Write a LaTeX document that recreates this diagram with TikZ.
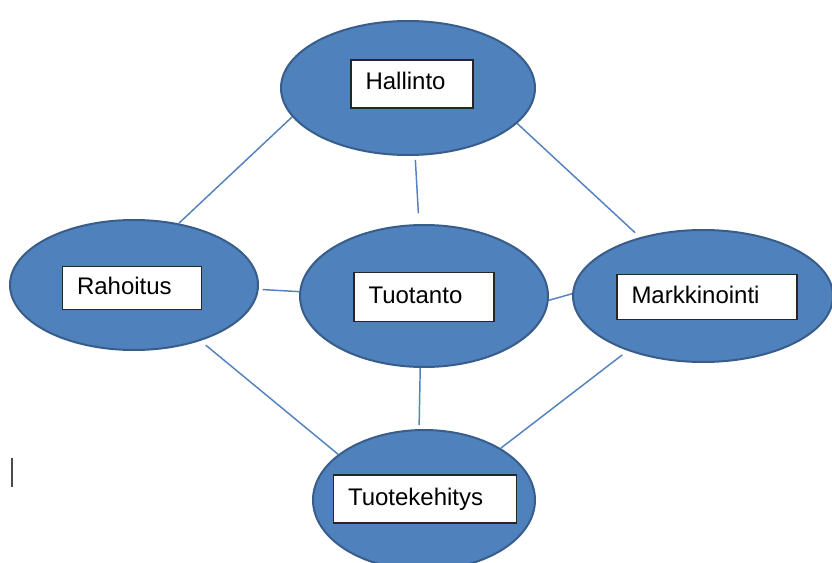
\documentclass[tikz,border=0pt]{standalone}
\usepackage{fontspec}
\setmainfont{Liberation Sans}
\usepackage{tikz}
\usetikzlibrary{shapes.geometric}

\definecolor{blobfill}{RGB}{79,129,189}
\definecolor{blobline}{RGB}{56,93,138}
\definecolor{linkblue}{RGB}{84,130,190}

\begin{document}
\begin{tikzpicture}[
  x=0.75pt, y=-0.75pt,
  blob/.style={draw=blobline,fill=blobfill,line width=1.5pt,shape=ellipse,inner sep=0pt},
  ]
  \tikzset{%
    namebox/.style={
      draw=black!85,
      fill=white,
      line width=1.1pt,
      align=left,
      inner xsep=11pt,
      text height=13pt,
      text depth=4pt,
      font=\fontsize{18}{21}\selectfont,
      text width=#1,
    },
  }
  \useasboundingbox (0,0) rectangle (832,563);
  %Nodes
  \node[blob,minimum width=190.5pt,minimum height=100.5pt](hal) at (408,88){};
  \node[blob,minimum width=186pt,minimum height=97.5pt](rah) at (134,285){};
  \node[blob,minimum width=186pt,minimum height=106.5pt](tuo) at (424,296){};
  \node[blob,minimum width=195pt,minimum height=99pt](mar) at (703,296){};
  \node[blob,minimum width=166.5pt,minimum height=105pt](keh) at (424,500){};
  \node[namebox=69.75pt,minimum height=36pt](halbox) at (412,84){Hallinto};
  \node[namebox=82.5pt,minimum height=32pt](rahbox) at (132,288){Rahoitus};
  \node[namebox=83.25pt,minimum height=36.75pt](tuobox) at (424,297){Tuotanto};
  \node[namebox=113.25pt,minimum height=34pt](marbox) at (707,297){Markkinointi};
  \node[namebox=115.5pt,minimum height=36pt](kehbox) at (425,499){Tuotekehitys};
  %Lines
  \draw[-, auto]
    (hal.194) edge[color=linkblue, line width=1.1pt](rah.54)
    (hal.276) edge[color=linkblue, line width=1.1pt, shorten <=3pt, shorten >=8pt](tuo.94)
    (hal.342) edge[color=linkblue, line width=1.1pt, shorten >=5pt](mar.137)
    (rah.358) edge[color=linkblue, line width=1.1pt, shorten <=3pt](tuo.178)
    (tuo.358) edge[color=linkblue, line width=1.1pt](mar.179)
    (rah.320) edge[color=linkblue, line width=1.1pt, shorten <=5pt](keh.152)
    (tuo.267) edge[color=linkblue, line width=1.1pt, shorten >=3pt](keh.94)
    (mar.216) edge[color=linkblue, line width=1.1pt, shorten <=5pt](keh.34)
    ;
  %Cursor
  \draw[black!70, line width=1.5pt] (12,458) -- (12,487);
\end{tikzpicture}
\end{document}
